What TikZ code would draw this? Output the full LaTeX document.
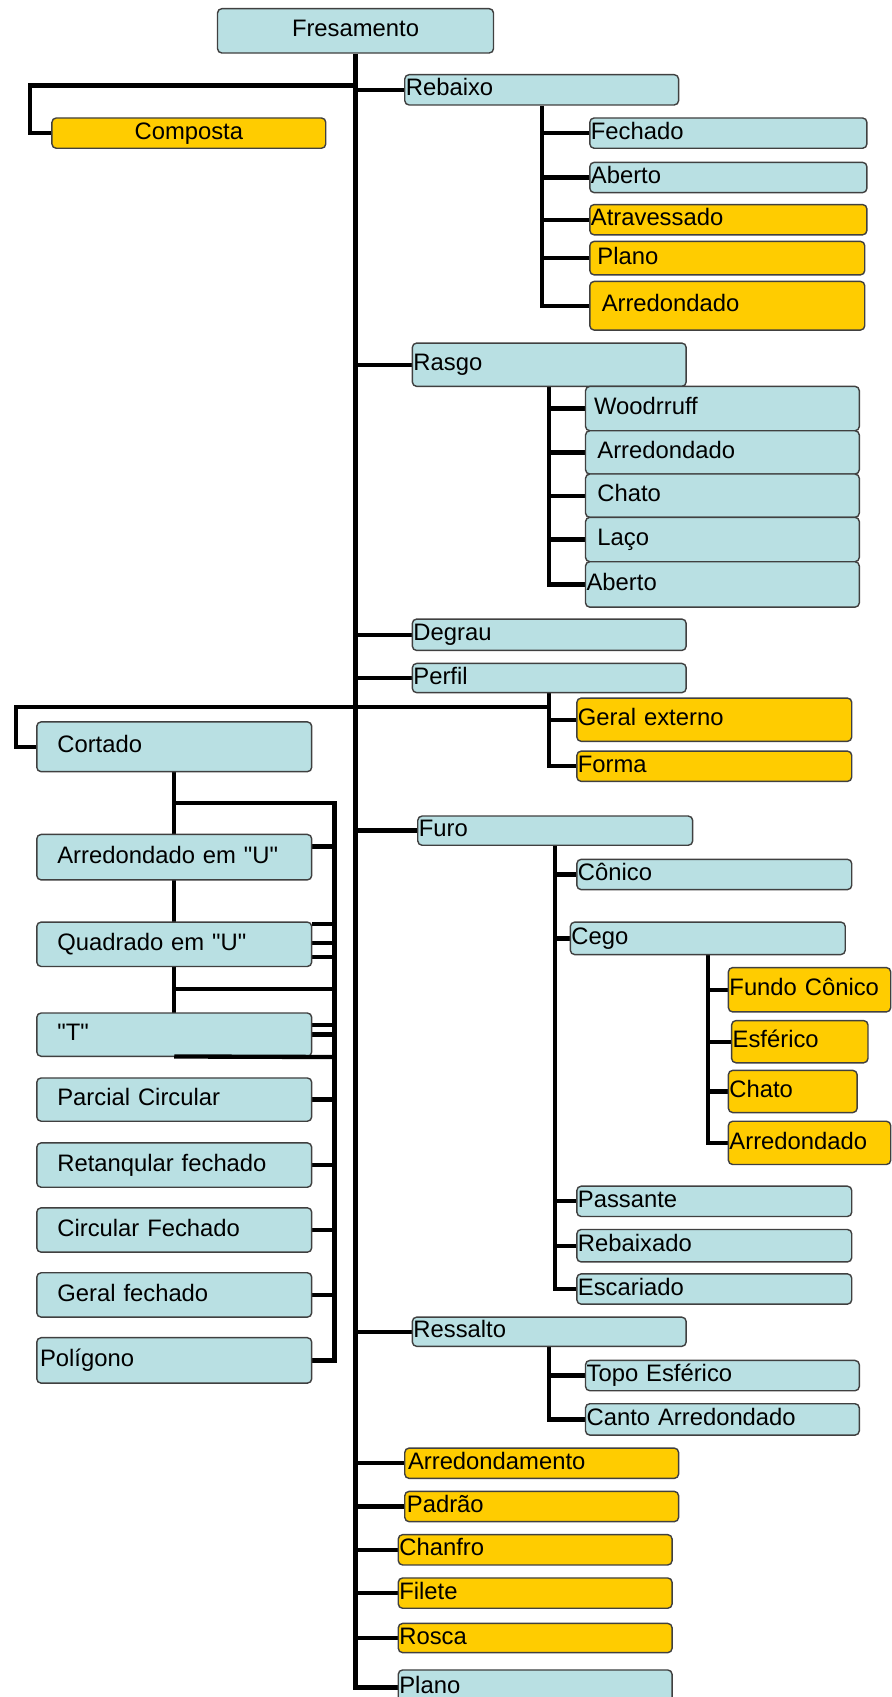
\documentclass[tikz,border=0pt]{standalone}
\usepackage{fontspec}
\newfontfamily\boxfont{Liberation Sans}
\usetikzlibrary{backgrounds,calc}
\definecolor{lblue}{RGB}{185,224,227}
\definecolor{lyel}{RGB}{255,204,0}
\tikzset{
  box/.style={draw=black!75, line width=1.3pt, rounded corners=4pt,
    inner ysep=0pt, inner xsep=0pt, align=left, anchor=center,
    font=\boxfont\fontsize{22}{24}\selectfont, text height=15.8pt, text depth=4.5pt},
  bl/.style={box, fill=lblue},
  yl/.style={box, fill=lyel},
  ctr/.style={align=center},
  conn/.style={line width=4pt, black},
  trunk/.style={line width=4.6pt, black},
}
\newcommand\bx[8]{%
  \pgfmathsetmacro\myw{#4-#2}%
  \pgfmathsetmacro\myh{#5-#3}%
  \pgfmathsetmacro\mytw{#4-#2-2*#7}%
  \pgfmathsetmacro\mycx{(#2+#4)/2}%
  \pgfmathsetmacro\mycy{(#3+#5)/2}%
  \node[#6, minimum width=\myw pt, minimum height=\myh pt, text width=\mytw pt] (#1) at (\mycx,\mycy) {#8};}
\begin{document}
\begin{tikzpicture}[x=1pt,y=-1pt]
\useasboundingbox (0,0) rectangle (824,1568);
% boxes
\bx{fres}{201}{8}{456}{49}{bl,ctr}{10}{Fresamento}
\bx{comp}{48}{109}{301}{137}{yl,ctr}{10}{Composta}
\bx{reb}{374}{69}{627}{97}{bl}{1}{Rebaixo}
\bx{rfech}{545}{109}{801}{137}{bl}{1}{Fechado}
\bx{rab}{545}{150}{801}{178}{bl}{1}{Aberto}
\bx{ratr}{545}{189}{801}{217}{yl}{1}{Atravessado}
\bx{rpla}{545}{223}{799}{254}{yl}{7}{Plano}
\bx{rarr}{545}{260}{799}{305}{yl}{11}{Arredondado}
\bx{ras}{381}{317}{634}{357}{bl}{1}{Rasgo}
\bx{wood}{541}{357}{794}{398}{bl}{8}{Woodrruff}
\bx{sarr}{541}{398}{794}{438}{bl}{11}{Arredondado}
\bx{scha}{541}{438}{794}{478}{bl}{11}{Chato}
\bx{slac}{541}{478}{794}{519}{bl}{11}{Laço}
\bx{sabe}{541}{519}{794}{561}{bl}{1}{Aberto}
\bx{deg}{381}{572}{634}{601}{bl}{1}{Degrau}
\bx{perf}{381}{613}{634}{640}{bl}{1}{Perfil}
\bx{gext}{533}{645}{787}{685}{yl}{1}{Geral externo}
\bx{form}{533}{694}{787}{722}{yl}{1}{Forma}
\bx{cort}{34}{667}{288}{713}{bl}{19}{Cortado}
\bx{arru}{34}{771}{288}{813}{bl}{19}{Arredondado em "U"}
\bx{quad}{34}{852}{288}{893}{bl}{19}{Quadrado em "U"}
\bx{tee}{34}{936}{288}{976}{bl}{19}{"T"}
\bx{parc}{34}{996}{288}{1036}{bl}{19}{Parcial Circular}
\bx{ret}{34}{1056}{288}{1097}{bl}{19}{Retanqular fechado}
\bx{circ}{34}{1116}{288}{1157}{bl}{19}{Circular Fechado}
\bx{gfech}{34}{1176}{288}{1217}{bl}{19}{Geral fechado}
\bx{poli}{34}{1236}{288}{1278}{bl}{3}{Polígono}
\bx{furo}{386}{754}{640}{781}{bl}{1}{Furo}
\bx{con}{533}{794}{787}{822}{bl}{1}{Cônico}
\bx{cego}{527}{852}{781}{882}{bl}{1}{Cego}
\bx{fcon}{673}{894}{823}{935}{yl}{1}{Fundo Cônico}
\bx{esf}{676}{943}{802}{982}{yl}{1}{Esférico}
\bx{fcha}{673}{989}{792}{1028}{yl}{1}{Chato}
\bx{farr}{673}{1036}{823}{1076}{yl}{1}{Arredondado}
\bx{pass}{533}{1096}{787}{1124}{bl}{1}{Passante}
\bx{rbx}{533}{1136}{787}{1166}{bl}{1}{Rebaixado}
\bx{esc}{533}{1177}{787}{1205}{bl}{1}{Escariado}
\bx{ress}{381}{1217}{634}{1244}{bl}{1}{Ressalto}
\bx{topo}{541}{1257}{794}{1285}{bl}{1}{Topo Esférico}
\bx{canto}{541}{1297}{794}{1326}{bl}{1}{Canto Arredondado}
\bx{arrd}{374}{1338}{627}{1366}{yl}{3}{Arredondamento}
\bx{pad}{374}{1378}{627}{1406}{yl}{2}{Padrão}
\bx{chan}{368}{1418}{621}{1446}{yl}{1}{Chanfro}
\bx{fil}{368}{1458}{621}{1486}{yl}{1}{Filete}
\bx{ros}{368}{1500}{621}{1527}{yl}{1}{Rosca}
\bx{plano}{368}{1543}{621}{1575}{bl}{1}{Plano}
% connectors
\begin{pgfonlayer}{background}
\draw[trunk] (fres.south) -- (fres.south |- plano.west) -- (plano.west);
\foreach \n in {reb,ras,deg,perf,furo,ress,arrd,pad,chan,fil,ros}
  \draw[conn] (fres.south |- \n.west) -- (\n.west);
\coordinate (cj) at (328.5,79);
\draw[conn] (cj) -- ++(-300.5,0) |- (comp.west);
% Rebaixo
\draw[conn] (reb.south) -- (reb.south |- rarr.west) -- (rarr.west);
\foreach \n in {rfech,rab,ratr,rpla}
  \draw[conn] (reb.south |- \n.west) -- (\n.west);
% Rasgo
\draw[conn] (ras.south) -- (ras.south |- sabe.west) -- (sabe.west);
\foreach \n in {wood,sarr,scha,slac}
  \draw[conn] (ras.south |- \n.west) -- (\n.west);
% Perfil
\draw[conn] (perf.south) -- (perf.south |- form.west) -- (form.west);
\draw[conn] (perf.south |- gext.west) -- (gext.west);
\coordinate (hl) at (0,653);
\coordinate (pj) at (perf.south |- hl);
\draw[conn] (pj) -- ++(-493,0) |- (cort.west);
% Cortado
\draw[conn] (cort.south) -- (cort.south |- tee.south);
\coordinate (rv) at (309,742);
\coordinate (h2) at (309,914);
\draw[conn] (cort.south |- rv) -- (rv) -- (rv |- poli.east) -- (poli.east);
\draw[conn] (cort.south |- h2) -- (h2);
\draw[conn] ($(arru.east)+(0,-10)$) -- ++(21,0);
\draw[conn] ($(quad.east)+(0,-18.5)$) -- ++(21,0);
\draw[conn] ($(quad.east)+(0,-1.5)$) -- ++(21,0);
\draw[conn] ($(quad.east)+(0,11.5)$) -- ++(21,0);
\draw[conn] ($(tee.east)+(0,-9)$) -- ++(21,0);
\draw[conn] (tee.east) -- ++(21,0);
\foreach \n in {parc,ret,circ,gfech}
  \draw[conn] (\n.east) -- (rv |- \n.east);
% Furo
\draw[conn] (furo.south) -- (furo.south |- esc.west) -- (esc.west);
\foreach \n in {con,cego,pass,rbx}
  \draw[conn] (furo.south |- \n.west) -- (\n.west);
% Cego
\draw[conn] (cego.south) -- (cego.south |- farr.west) -- (farr.west);
\foreach \n in {fcon,esf,fcha}
  \draw[conn] (cego.south |- \n.west) -- (\n.west);
% Ressalto
\draw[conn] (ress.south) -- (ress.south |- canto.west) -- (canto.west);
\draw[conn] (ress.south |- topo.west) -- (topo.west);
\end{pgfonlayer}
\draw[conn] ($(tee.south)+(0,-0.5)$) -- (rv |- tee.south);
\end{tikzpicture}
\end{document}
